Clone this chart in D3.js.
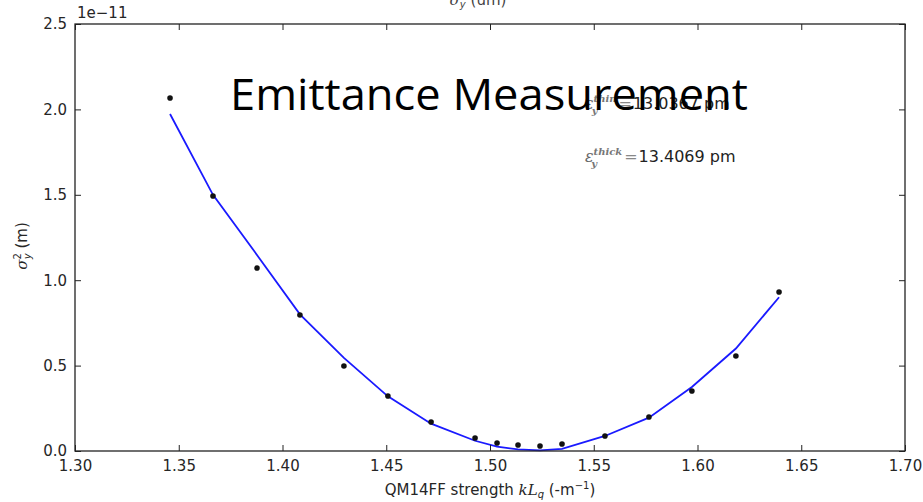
<!DOCTYPE html>
<html><head><meta charset="utf-8">
<script src="https://cdn.jsdelivr.net/npm/d3@7"></script>
<style>body{margin:0;background:#fff}svg{display:block}</style>
</head><body>
<script>
const strengths = [1.3458,1.3665,1.3877,1.4084,1.4296,1.4508,1.4716,1.4928,1.5034,1.5135,1.5241,1.5347,1.5554,1.5766,1.5973,1.6185,1.6393];
const measured  = [2.067,1.493,1.071,0.796,0.498,0.322,0.170,0.076,0.047,0.035,0.029,0.041,0.088,0.199,0.351,0.556,0.931];
const fitted    = [1.973,1.500,1.148,0.800,0.545,0.320,0.160,0.060,0.025,0.010,0.004,0.012,0.088,0.195,0.375,0.600,0.900];
const xTicks = [1.30,1.35,1.40,1.45,1.50,1.55,1.60,1.65,1.70];
const yTicks = [0.0,0.5,1.0,1.5,2.0,2.5];

const W=923,H=502;
const m={l:75,r:18,t:24,b:51};
const svg=d3.select("body").append("svg").attr("width",W).attr("height",H);
const x=d3.scaleLinear().domain([1.30,1.70]).range([m.l,W-m.r]);
const y=d3.scaleLinear().domain([0,2.5]).range([H-m.b,m.t]);
const font="DejaVu Sans, sans-serif";
const gray="#262626";

// line
svg.append("path").datum(strengths.map((s,i)=>[s,fitted[i]]))
  .attr("d",d3.line().x(d=>x(d[0])).y(d=>y(d[1])))
  .attr("fill","none").attr("stroke","#1a1aff").attr("stroke-width",1.8);
svg.selectAll("circle.pt").data(strengths).join("circle").attr("class","pt")
  .attr("cx",d=>x(d)).attr("cy",(d,i)=>y(measured[i])).attr("r",2.8).attr("fill","#111");

// frame
svg.append("rect").attr("x",m.l).attr("y",m.t).attr("width",W-m.r-m.l).attr("height",H-m.b-m.t)
  .attr("fill","none").attr("stroke","#222").attr("stroke-width",1.3);

// axes with inward ticks
const xb=svg.append("g").attr("transform",`translate(0,${H-m.b})`)
  .call(d3.axisBottom(x).tickValues(xTicks).tickFormat(d3.format(".2f")).tickSizeInner(-6).tickSizeOuter(0).tickPadding(9));
const xt=svg.append("g").attr("transform",`translate(0,${m.t})`)
  .call(d3.axisTop(x).tickValues(xTicks).tickFormat("").tickSizeInner(-6).tickSizeOuter(0));
const yl=svg.append("g").attr("transform",`translate(${m.l},0)`)
  .call(d3.axisLeft(y).tickValues(yTicks).tickFormat(d3.format(".1f")).tickSizeInner(-6).tickSizeOuter(0).tickPadding(8));
const yr=svg.append("g").attr("transform",`translate(${W-m.r},0)`)
  .call(d3.axisRight(y).tickValues(yTicks).tickFormat("").tickSizeInner(-6).tickSizeOuter(0));
[xb,xt,yl,yr].forEach(g=>{g.select(".domain").remove();g.selectAll("line").attr("stroke","#222");
  g.selectAll("text").attr("font-family",font).attr("font-size",15).attr("fill",gray);});

// offset label
svg.append("text").attr("x",m.l+2).attr("y",18).attr("font-family",font).attr("font-size",15).attr("fill",gray).text("1e\u221211");

// clipped top label
const tp=svg.append("text").attr("x",478).attr("y",5).attr("text-anchor","middle").attr("font-family",font).attr("font-size",15).attr("fill","#444");
tp.append("tspan").attr("font-style","italic").attr("font-family","DejaVu Serif, serif").text("\u03c3");
tp.append("tspan").attr("font-size",10).attr("dy",3).attr("font-style","italic").text("y");
tp.append("tspan").attr("dy",-3).text(" (um)");

// x label
const xlab=svg.append("text").attr("x",490).attr("y",495).attr("text-anchor","middle").attr("font-family",font).attr("font-size",15).attr("fill",gray);
xlab.append("tspan").text("QM14FF strength ");
xlab.append("tspan").attr("font-style","italic").attr("font-family","DejaVu Serif, serif").text("kL");
xlab.append("tspan").attr("font-style","italic").attr("font-size",10).attr("dy",3).text("q");
xlab.append("tspan").attr("dy",-3).text(" (-m");
xlab.append("tspan").attr("font-size",10).attr("dy",-6).text("\u22121");
xlab.append("tspan").attr("dy",6).text(")");

// y label
const ylab=svg.append("text").attr("transform","translate(27,246) rotate(-90)").attr("text-anchor","middle").attr("font-family",font).attr("font-size",15).attr("fill",gray);
ylab.append("tspan").attr("font-style","italic").attr("font-family","DejaVu Serif, serif").text("\u03c3");
ylab.append("tspan").attr("font-size",10).attr("dy",-6).text("2");
ylab.append("tspan").attr("font-size",10).attr("font-style","italic").attr("dx",-6).attr("dy",10).text("y");
ylab.append("tspan").attr("dy",-4).text(" (m)");

// emittance annotations
function eps(yp,sup,val){
  const t=svg.append("text").attr("x",585).attr("y",yp).attr("font-family",font).attr("font-size",16).attr("fill","#222");
  t.append("tspan").attr("font-style","italic").attr("font-family","DejaVu Serif, serif").attr("fill","#666").text("\u03b5");
  t.append("tspan").attr("font-size",10).attr("font-style","italic").attr("font-weight","bold").attr("font-family","DejaVu Serif, serif").attr("fill","#777").attr("dy",-7).text(sup);
  t.append("tspan").attr("font-size",10).attr("font-style","italic").attr("font-weight","bold").attr("font-family","DejaVu Serif, serif").attr("fill","#777").attr("dx",-(sup.length*6.2)).attr("dy",12).text("y");
  t.append("tspan").attr("dx",sup.length*6.2-4).attr("dy",-5).attr("fill","#888").text("=");
  t.append("tspan").attr("dx",1).text(val+" pm");
}
eps(109,"thin","13.0367");
eps(162,"thick","13.4069");

// overlay title
svg.append("text").attr("x",489).attr("y",110).attr("text-anchor","middle")
  .attr("font-family","Open Sans, Lato, sans-serif").attr("font-size",44).attr("fill","#000")
  .attr("textLength",518).attr("lengthAdjust","spacingAndGlyphs").text("Emittance Measurement");
</script>
</body></html>
